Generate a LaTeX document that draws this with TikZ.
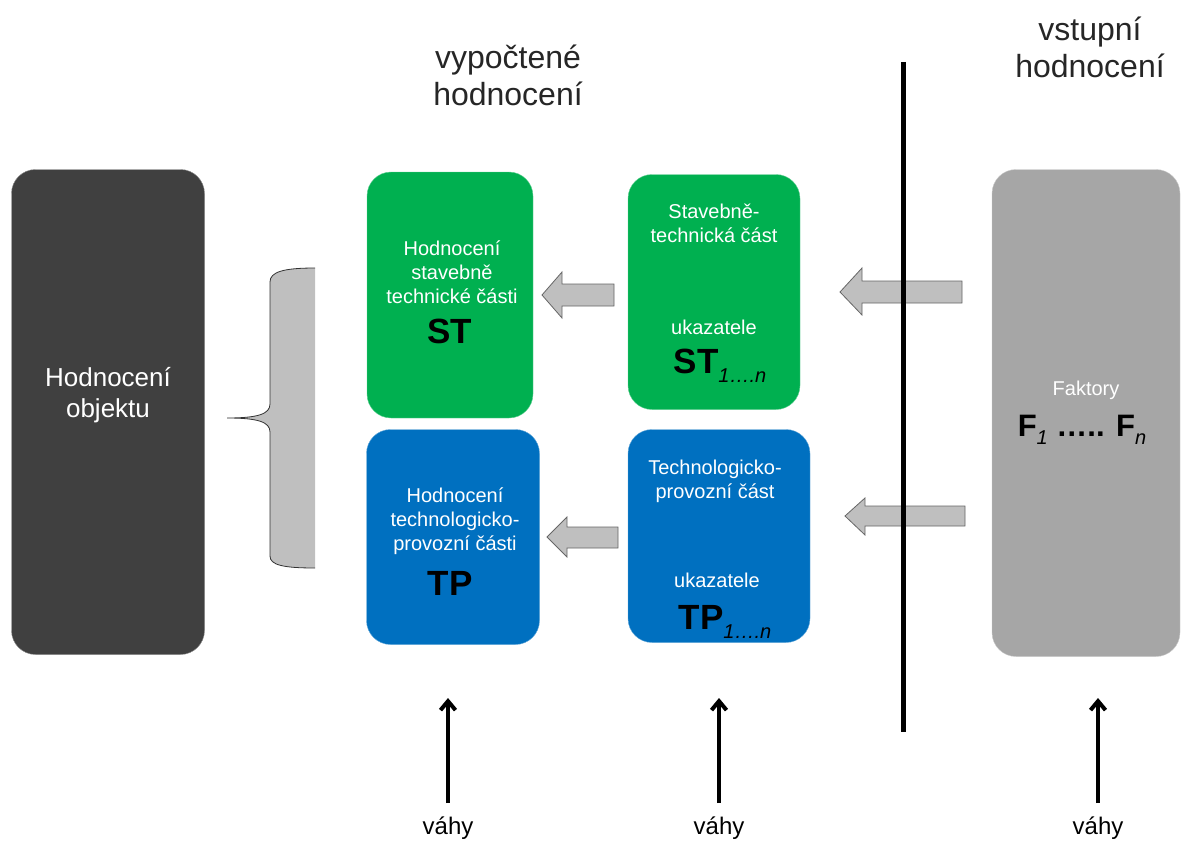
\documentclass[tikz,border=0pt]{standalone}
\usepackage{fontspec}
\setmainfont{Liberation Sans}
\usetikzlibrary{arrows.meta}
\definecolor{objgray}{RGB}{64,64,64}
\definecolor{stgreen}{RGB}{0,176,80}
\definecolor{tpblue}{RGB}{0,112,192}
\definecolor{fakgray}{RGB}{166,166,166}
\definecolor{bracegray}{RGB}{191,191,191}
\newcommand{\idx}[1]{\raisebox{-0.25em}{\fontsize{20}{20}\selectfont\mdseries\itshape #1}}

\begin{document}
\begin{tikzpicture}[x=1pt,y=-1pt]
\tikzstyle{box}=[rounded corners=24pt,inner sep=0pt]
\tikzstyle{boxtext}=[text=white,align=center,font=\fontsize{20}{24}\selectfont]
\tikzstyle{bigtext}=[text=black,font=\fontsize{35}{36}\selectfont\bfseries]
\tikzstyle{title}=[text=black!85,align=center,font=\fontsize{32}{37}\selectfont]
\tikzstyle{blockarrow}=[fill=bracegray,draw=black!60,line width=0.8pt,line join=miter]
\tikzstyle{weight}=[line width=4pt,-{Straight Barb[length=9pt,width=15pt]}]
\useasboundingbox (0,0) rectangle (1187,843);
% titles
\node[title] (calc) at (508,75) {vypočtené\\hodnocení};
\node[title] (input) at (1090,47) {vstupní\\hodnocení};
% boxes
\node[box,fill=objgray,draw=objgray!60,minimum width=193,minimum height=485] (obj) at (108,412) {};
\node[box,fill=stgreen,draw=stgreen!60,minimum width=166,minimum height=246] (st) at (450,295) {};
\node[box,fill=stgreen,draw=stgreen!60,minimum width=172,minimum height=235] (stu) at (714,292) {};
\node[box,fill=tpblue,draw=tpblue!60,minimum width=173,minimum height=215] (tp) at (453,537) {};
\node[box,fill=tpblue,draw=tpblue!60,minimum width=182,minimum height=213] (tpu) at (719,536) {};
\node[box,fill=fakgray,draw=fakgray!60,minimum width=188,minimum height=487] (fak) at (1086,413) {};
% texts
\node[boxtext,font=\fontsize{26}{31}\selectfont] (objtxt) at (108,395) {Hodnocení\\objektu};
\node[boxtext] (sttxt) at (452,272) {Hodnocení\\stavebně\\technické části};
\node[bigtext] (stsym) at (450,331) {ST};
\node[boxtext] (stutxt) at (714,223) {Stavebně-\\technická část};
\node[boxtext] (stuuk) at (714,327) {ukazatele};
\node[bigtext] (stusym) at (720,366) {ST\idx{1….n}};
\node[boxtext] (tptxt) at (455,521) {Hodnocení\\technologicko-\\provozní části};
\node[bigtext] (tpsym) at (450,583) {TP};
\node[boxtext] (tputxt) at (715,481) {Technologicko-\\provozní část};
\node[boxtext] (tpuuk) at (717,580) {ukazatele};
\node[bigtext] (tpusym) at (725,622) {TP\idx{1….n}};
\node[boxtext] (faktxt) at (1086,390) {Faktory};
\node[bigtext,font=\fontsize{31}{32}\selectfont\bfseries] (faksym) at (1082,430) {F\idx{1} ….. F\idx{n}};
% brace
\fill[bracegray] (315,268) .. controls (283,268) and (270,272) .. (270,282) -- (270,404) .. controls (270,414) and (258,418) .. (227,418) .. controls (258,418) and (270,422) .. (270,432) -- (270,556) .. controls (270,565) and (283,568) .. (315,568) -- cycle;
\draw[black!80,line width=0.8pt] (315,268) .. controls (283,268) and (270,272) .. (270,282) -- (270,404) .. controls (270,414) and (258,418) .. (227,418) .. controls (258,418) and (270,422) .. (270,432) -- (270,556) .. controls (270,565) and (283,568) .. (315,568);
% block arrows
\draw[blockarrow] (542,295) -- (562,272) -- (562,284) -- (614,284) -- (614,306) -- (562,306) -- (562,318) -- cycle;
\draw[blockarrow] (840,292) -- (862,268) -- (862,281) -- (962,281) -- (962,303) -- (862,303) -- (862,315) -- cycle;
\draw[blockarrow] (547,537) -- (567,517) -- (567,527) -- (618,527) -- (618,548) -- (567,548) -- (567,557) -- cycle;
\draw[blockarrow] (845,516) -- (865,498) -- (865,506) -- (965,506) -- (965,526) -- (865,526) -- (865,535) -- cycle;
% separator
\draw[line width=5pt] (903,62) -- (903,732);
% weights
\node[font=\fontsize{24}{26}\selectfont] (w1) at (448,828) {váhy};
\node[font=\fontsize{24}{26}\selectfont] (w2) at (719,828) {váhy};
\node[font=\fontsize{24}{26}\selectfont] (w3) at (1098,828) {váhy};
\coordinate (t1) at (448,698);
\coordinate (t2) at (719,698);
\coordinate (t3) at (1098,698);
\draw[weight] ([yshift=10pt]w1.north) -- (t1);
\draw[weight] ([yshift=10pt]w2.north) -- (t2);
\draw[weight] ([yshift=10pt]w3.north) -- (t3);
\end{tikzpicture}
\end{document}
